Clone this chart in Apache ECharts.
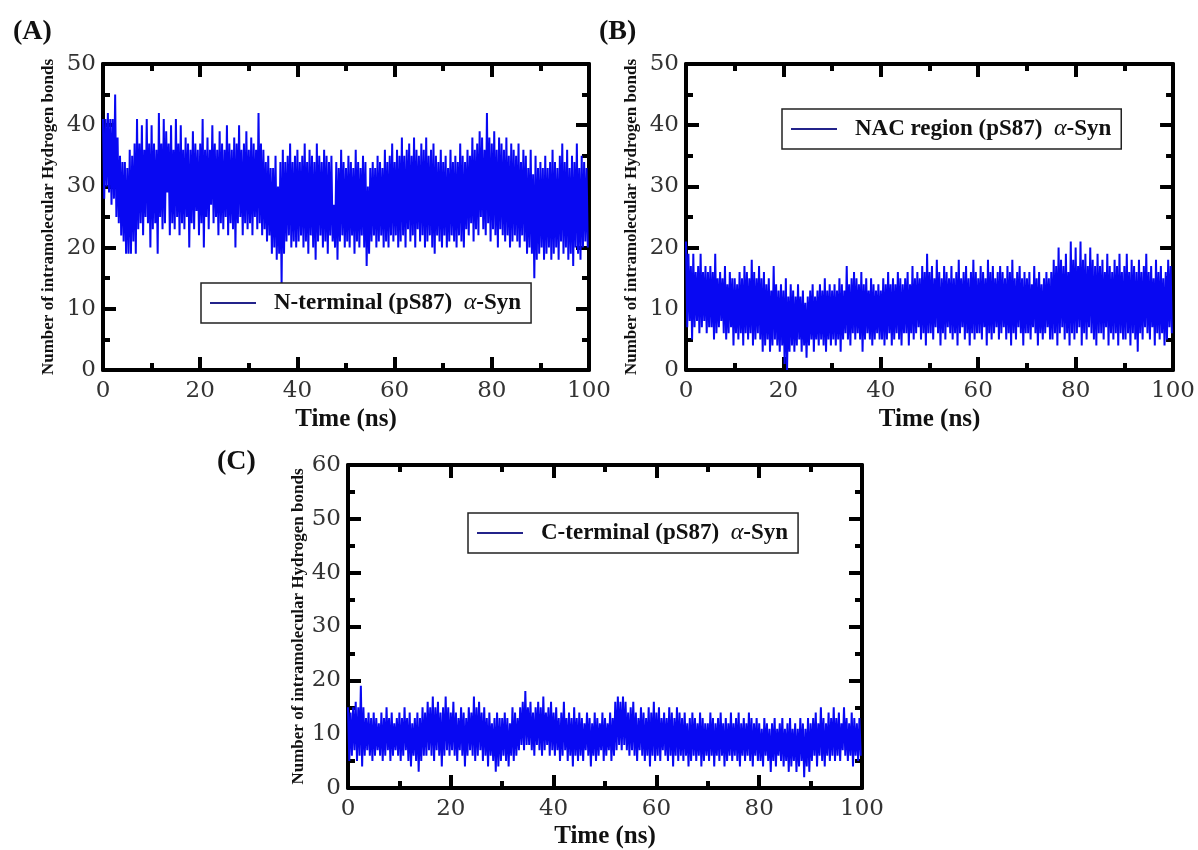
<!DOCTYPE html>
<html>
<head>
<meta charset="utf-8">
<script src="https://cdn.jsdelivr.net/npm/echarts@6/dist/echarts.min.js"></script>
<style>
html,body{margin:0;padding:0;background:#fff;}
#chart{width:1198px;height:850px;}
</style>
</head>
<body>
<div id="chart"></div>
<script>
// ---- DATA (one hi/lo pair every 0.5 ns) ----
const timeStep = 0.5; // ns between pairs
const xTicks = [0, 20, 40, 60, 80, 100];

const seriesNames = ['N-terminal (pS87)  α-Syn', 'NAC region (pS87)  α-Syn', 'C-terminal (pS87)  α-Syn'];

// Panel A: N-terminal
const hiA = [
 41,41,42,41,41,45,38,35,34,34, 33,36,35,37,41,37,40,36,41,37,
 40,37,36,42,37,41,39,37,40,36, 41,37,40,36,38,37,36,39,37,36,
 37,41,36,38,36,40,37,36,39,37, 36,40,37,36,38,37,40,36,37,39,
 36,38,37,36,42,37,36,34,35,33, 33,35,30,34,36,34,35,37,34,35,
 36,34,35,37,34,36,35,34,37,35, 34,36,35,34,35,27,34,33,36,34,
 33,35,34,33,36,34,33,35,34,30, 33,34,33,35,34,33,36,34,35,37,
 34,36,35,38,35,36,37,35,38,36, 35,37,36,38,35,36,37,35,34,36,
 34,35,33,36,34,35,34,37,35,34, 36,35,38,36,37,39,38,36,42,38,
 37,39,36,38,37,36,38,35,37,36, 35,37,34,36,35,33,36,32,35,33,
 34,33,35,33,34,36,34,33,35,37, 34,36,33,35,34,37,33,35,34,33
];
const loA = [
 28,30,29,27,28,25,24,22,21,19, 19,19,21,19,23,24,22,25,24,20,
 23,24,19,25,23,24,29,22,24,23, 25,22,24,23,25,20,24,23,26,22,
 24,20,25,23,27,24,25,22,24,23, 25,22,24,23,20,24,25,22,24,23,
 24,22,25,23,24,22,23,21,22,19, 20,18,19,14,19,21,22,20,21,20,
 21,22,20,21,19,22,20,18,21,22, 20,21,19,22,21,20,18,21,22,20,
 21,20,22,19,21,20,22,20,17,19, 21,22,20,21,22,20,21,20,22,21,
 22,20,21,22,20,23,21,22,20,23, 21,22,20,21,22,20,19,22,21,20,
 22,20,21,22,21,20,22,21,20,23, 22,24,21,23,22,25,23,22,24,21,
 23,22,20,23,22,21,22,20,21,22, 21,20,22,21,19,20,19,15,18,19,
 20,18,19,20,18,19,20,18,21,19, 20,18,19,17,20,19,18,20,21,20
];

// Panel B: NAC region
const hiB = [
 21,19,17,19,16,17,19,16,17,16, 17,16,19,15,16,15,17,14,16,15,
 15,14,16,15,17,16,15,18,16,15, 17,15,16,14,15,13,17,14,13,14,
 13,15,12,14,13,12,14,12,13,11, 12,13,14,12,13,14,13,15,13,14,
 13,14,13,15,14,13,17,14,15,16, 15,14,16,14,15,13,15,14,13,14,
 13,15,14,16,14,15,14,16,15,14, 15,16,14,17,15,16,15,17,16,19,
 16,17,15,18,16,15,17,16,15,17, 15,16,18,15,16,17,15,16,18,16,
 15,17,16,15,18,16,17,15,16,17, 16,15,17,16,18,15,16,17,15,16,
 15,16,14,17,15,16,14,15,16,15, 16,18,17,20,18,17,19,16,21,18,
 20,17,21,18,19,17,20,18,17,19, 17,18,16,19,17,16,18,17,19,16,
 17,19,16,18,17,16,18,16,17,19, 16,17,15,18,16,17,15,16,18,17
];
const loB = [
 7,8,5,7,8,6,7,8,6,7, 7,5,6,7,8,6,5,6,7,4,
 6,5,6,4,6,5,6,4,5,6, 5,3,4,5,3,4,5,4,3,4,
 1,0,3,4,3,4,5,3,4,2, 4,5,3,5,4,5,4,3,5,4,
 5,4,5,3,5,6,5,4,6,5, 6,5,3,5,6,5,4,5,6,5,
 5,4,5,6,4,5,6,5,4,6, 6,4,6,5,6,7,5,6,4,6,
 6,5,7,6,4,6,5,7,6,5, 6,4,6,7,5,6,4,6,5,6,
 6,5,7,4,6,5,6,7,5,6, 7,5,6,4,6,5,7,6,4,6,
 6,5,7,6,4,6,5,6,7,5, 5,6,4,6,7,5,6,4,6,5,
 6,7,4,6,5,7,6,5,4,6, 6,5,7,4,6,5,6,4,6,5,
 5,6,4,6,5,3,6,5,7,6, 5,7,4,6,5,6,4,5,7,6
];

// Panel C: C-terminal
const hiC = [
 15,14,15,16,15,19,15,13,14,13, 14,13,12,14,13,15,13,14,12,13,
 14,13,15,13,14,12,13,14,13,15, 14,16,15,17,15,16,14,15,17,15,
 14,16,14,13,15,14,13,15,14,17, 15,16,14,15,13,14,12,13,14,13,
 13,14,13,12,15,14,13,15,16,18, 15,16,14,15,16,15,17,14,15,16,
 14,15,13,14,16,13,14,13,15,13, 14,13,12,14,13,12,14,13,12,14,
 13,12,14,13,16,17,16,17,16,14, 15,16,14,13,15,14,13,15,14,16,
 14,15,13,14,13,15,14,13,15,14, 13,14,12,13,14,13,12,14,13,12,
 12,14,13,12,13,14,12,13,12,14, 12,13,14,12,13,12,14,13,12,13,
 12,11,13,12,11,12,13,11,12,13, 11,12,13,11,12,11,13,12,11,13,
 12,13,14,12,15,13,12,14,13,15, 13,14,12,15,13,12,14,13,12,13
];
const loC = [
 5,6,7,5,6,4,6,7,6,5, 6,7,6,5,6,7,5,6,7,6,
 5,6,7,5,4,6,5,3,5,6, 6,7,6,5,7,6,4,6,7,6,
 7,6,5,7,6,4,6,7,6,5, 6,7,5,6,4,6,5,3,4,5,
 6,5,4,6,5,6,7,8,7,8, 8,7,6,8,7,6,7,8,6,7,
 6,7,5,6,7,5,6,4,6,5, 6,5,7,6,4,6,5,6,7,5,
 6,7,5,6,7,8,7,8,7,6, 7,6,5,7,6,5,6,4,6,5,
 6,5,7,6,5,6,4,6,5,6, 5,6,4,5,6,5,6,4,5,6,
 5,6,4,6,5,6,4,5,6,5, 6,5,4,6,5,6,5,4,6,5,
 5,4,6,5,3,5,4,6,5,4, 5,3,4,5,3,4,5,2,4,3,
 5,6,4,6,5,4,6,5,6,5, 6,5,7,6,5,6,4,6,5,6
];

const yMaxA = 50, yMaxB = 50, yMaxC = 60;
const yInterval = 10;

// ---- build series data (interleave the read hi/lo values in time order) ----
function build(hi, lo) {
  const out = [];
  for (let i = 0; i < hi.length; i++) {
    out.push([i * timeStep, hi[i]]);
    out.push([i * timeStep + timeStep / 2, lo[i]]);
  }
  return out;
}

const SERIF = '"Liberation Serif", "Times New Roman", serif';
const LABELFONT = '"DejaVu Serif", serif';

const grids = [
  {left: 103, top: 64, width: 486, height: 306},
  {left: 686, top: 64, width: 491, height: 306},
  {left: 348, top: 465, width: 514, height: 330}
];
const yMax = [yMaxA, yMaxB, yMaxC];
const xNameGap = [37, 37, 36];
const yNameGap = [46, 46, 41];

const xAxes = [], yAxes = [];
grids.forEach((g, i) => {
  const tickCommon = {
    axisLine: {show: true, onZero: false, lineStyle: {color: '#000', width: 4}},
    axisTick: {show: true, inside: true, length: 13, lineStyle: {color: '#000', width: 4}},
    minorTick: {show: true, splitNumber: 2, length: 7, lineStyle: {color: '#000', width: 4}},
    splitLine: {show: false},
    minorSplitLine: {show: false}
  };
  xAxes.push(Object.assign({
    gridIndex: i, type: 'value', position: 'bottom', min: 0, max: 100, interval: 20,
    name: 'Time (ns)', nameLocation: 'middle', nameGap: xNameGap[i],
    nameTextStyle: {fontFamily: SERIF, fontWeight: 'bold', fontSize: 25, color: '#111'},
    axisLabel: {show: true, margin: 10, fontFamily: LABELFONT, fontSize: 23, color: '#333'}
  }, tickCommon));
  xAxes.push(Object.assign({
    gridIndex: i, type: 'value', position: 'top', min: 0, max: 100, interval: 20,
    axisLabel: {show: false}
  }, tickCommon));
  yAxes.push(Object.assign({
    gridIndex: i, type: 'value', position: 'left', min: 0, max: yMax[i], interval: yInterval,
    name: 'Number of intramolecular Hydrogen bonds', nameLocation: 'middle', nameGap: yNameGap[i], nameRotate: 90,
    nameTextStyle: {fontFamily: SERIF, fontWeight: 'bold', fontSize: 17, color: '#111'},
    axisLabel: {show: true, margin: 7, fontFamily: LABELFONT, fontSize: 23, color: '#333'}
  }, tickCommon));
  yAxes.push(Object.assign({
    gridIndex: i, type: 'value', position: 'right', min: 0, max: yMax[i], interval: yInterval,
    axisLabel: {show: false}
  }, tickCommon));
});

const dataSets = [build(hiA, loA), build(hiB, loB), build(hiC, loC)];
const series = dataSets.map((d, i) => ({
  name: seriesNames[i], type: 'line', xAxisIndex: i * 2, yAxisIndex: i * 2,
  data: d, showSymbol: false, symbol: 'none', animation: false,
  lineStyle: {color: '#0808f2', width: 2}, itemStyle: {color: '#0808f2'}
}));

const legendPos = [
  {left: 201, top: 283},
  {left: 782, top: 109},
  {left: 468, top: 513}
];
const legends = seriesNames.map((n, i) => ({
  data: [n], left: legendPos[i].left, top: legendPos[i].top,
  orient: 'horizontal', padding: [8, 10, 8, 9],
  borderColor: '#222', borderWidth: 1.5, borderRadius: 0, backgroundColor: '#fff',
  itemWidth: 46, itemHeight: 14, itemGap: 0, icon: 'path://M0,6 L46,6 L46,8 L0,8 Z',
  itemStyle: {color: '#23238a'},
  selectedMode: false,
  formatter: function (name) {
    const parts = name.split('α');
    return '{b|' + parts[0] + '}{a|α}{b|' + parts[1] + '}';
  },
  textStyle: {
    padding: [0, 0, 0, 13],
    rich: {
      b: {fontFamily: SERIF, fontWeight: 'bold', fontSize: 23, color: '#111'},
      a: {fontFamily: SERIF, fontStyle: 'italic', fontSize: 24, color: '#111'}
    }
  }
}));

const titles = [
  {text: '(A)', left: 8, top: 13},
  {text: '(B)', left: 594, top: 13},
  {text: '(C)', left: 212, top: 443}
].map(t => Object.assign(t, {textStyle: {fontFamily: SERIF, fontWeight: 'bold', fontSize: 28, color: '#111'}}));

const chart = echarts.init(document.getElementById('chart'), null, {renderer: 'canvas'});
chart.setOption({
  animation: false,
  backgroundColor: '#fff',
  title: titles,
  legend: legends,
  grid: grids,
  xAxis: xAxes,
  yAxis: yAxes,
  series: series
});
</script>
</body>
</html>
